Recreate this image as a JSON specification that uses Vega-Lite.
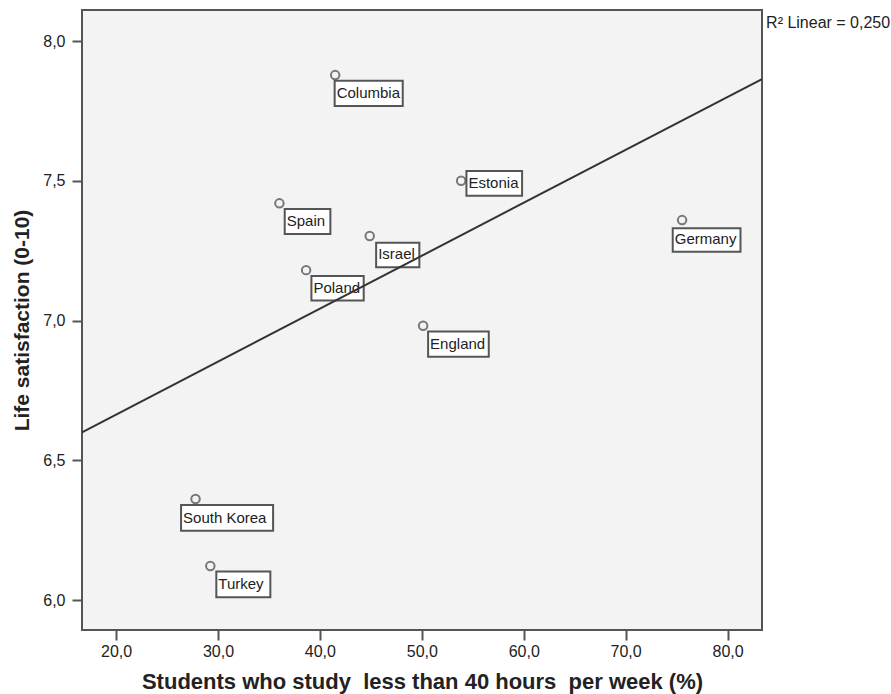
{
  "$schema": "https://vega.github.io/schema/vega-lite/v6.json",
  "width": 680,
  "height": 620,
  "autosize": {"type": "none"},
  "padding": {"left": 82, "top": 10, "right": 129, "bottom": 64},
  "background": "white",
  "config": {
    "view": {"fill": "#f3f3f3", "stroke": "#555555", "strokeWidth": 2},
    "font": "Liberation Sans",
    "axis": {
      "grid": false,
      "domain": false,
      "tickColor": "#555555",
      "tickWidth": 2,
      "tickSize": 10,
      "labelFont": "Liberation Sans",
      "labelFontSize": 16,
      "labelColor": "#222222",
      "titleFont": "Liberation Sans",
      "titleFontSize": 21,
      "titleFontWeight": "bold",
      "titleColor": "#222222"
    }
  },
  "datasets": {
    "countries": [
      {"country": "Columbia", "pct": 41.5, "ls": 7.879, "bx1": 41.45, "bx2": 48.13, "by1": 7.859, "by2": 7.768},
      {"country": "Estonia", "pct": 53.86, "ls": 7.501, "bx1": 54.38, "bx2": 59.84, "by1": 7.536, "by2": 7.447},
      {"country": "Spain", "pct": 36.03, "ls": 7.42, "bx1": 36.55, "bx2": 41.03, "by1": 7.4, "by2": 7.31},
      {"country": "Israel", "pct": 44.89, "ls": 7.303, "bx1": 45.52, "bx2": 49.76, "by1": 7.279, "by2": 7.191},
      {"country": "Poland", "pct": 38.65, "ls": 7.181, "bx1": 39.17, "bx2": 44.3, "by1": 7.16, "by2": 7.072},
      {"country": "Germany", "pct": 75.54, "ls": 7.36, "bx1": 74.62, "bx2": 81.27, "by1": 7.331, "by2": 7.247},
      {"country": "England", "pct": 50.13, "ls": 6.982, "bx1": 50.62, "bx2": 56.57, "by1": 6.961, "by2": 6.871},
      {"country": "South Korea", "pct": 27.8, "ls": 6.362, "bx1": 26.38, "bx2": 35.41, "by1": 6.34, "by2": 6.248},
      {"country": "Turkey", "pct": 29.25, "ls": 6.122, "bx1": 29.84, "bx2": 35.14, "by1": 6.102, "by2": 6.01}
    ],
    "fit": [
      {"pct": 16.66, "ls": 6.6006},
      {"pct": 83.38, "ls": 7.865}
    ],
    "note": [
      {"text": "R² Linear = 0,250", "pct": 83.78, "ls": 8.0465}
    ]
  },
  "layer": [
    {
      "data": {"name": "countries"},
      "mark": {"type": "point", "shape": "circle", "filled": false, "size": 72, "stroke": "#444444", "strokeWidth": 2},
      "encoding": {
        "x": {
          "field": "pct", "type": "quantitative",
          "scale": {"domain": [16.66, 83.38], "nice": false, "zero": false},
          "axis": {
            "values": [20, 30, 40, 50, 60, 70, 80],
            "labelExpr": "replace(format(datum.value, '.1f'), '.', ',')",
            "labelPadding": 3,
            "title": "Students who study\u00a0 less than 40 hours\u00a0 per week (%)",
            "titleFontSize": 22,
            "titlePadding": 12
          }
        },
        "y": {
          "field": "ls", "type": "quantitative",
          "scale": {"domain": [5.893, 8.112], "nice": false, "zero": false},
          "axis": {
            "values": [6.0, 6.5, 7.0, 7.5, 8.0],
            "labelExpr": "replace(format(datum.value, '.1f'), '.', ',')",
            "labelPadding": 7,
            "title": "Life satisfaction (0-10)",
            "titlePadding": 10
          }
        }
      }
    },
    {
      "data": {"name": "countries"},
      "mark": {"type": "rect", "fill": "white", "stroke": "#555555", "strokeWidth": 2},
      "encoding": {
        "x": {"field": "bx1", "type": "quantitative"},
        "x2": {"field": "bx2"},
        "y": {"field": "by1", "type": "quantitative"},
        "y2": {"field": "by2"}
      }
    },
    {
      "data": {"name": "countries"},
      "mark": {"type": "text", "align": "left", "baseline": "alphabetic", "dx": 2, "dy": -8, "fontSize": 15, "color": "#222222"},
      "encoding": {
        "x": {"field": "bx1", "type": "quantitative"},
        "y": {"field": "by2", "type": "quantitative"},
        "text": {"field": "country"}
      }
    },
    {
      "data": {"name": "fit"},
      "mark": {"type": "line", "stroke": "#333333", "strokeWidth": 2},
      "encoding": {
        "x": {"field": "pct", "type": "quantitative"},
        "y": {"field": "ls", "type": "quantitative"}
      }
    },
    {
      "data": {"name": "note"},
      "mark": {"type": "text", "align": "left", "baseline": "alphabetic", "fontSize": 16, "color": "#222222"},
      "encoding": {
        "x": {"field": "pct", "type": "quantitative"},
        "y": {"field": "ls", "type": "quantitative"},
        "text": {"field": "text"}
      }
    }
  ]
}
